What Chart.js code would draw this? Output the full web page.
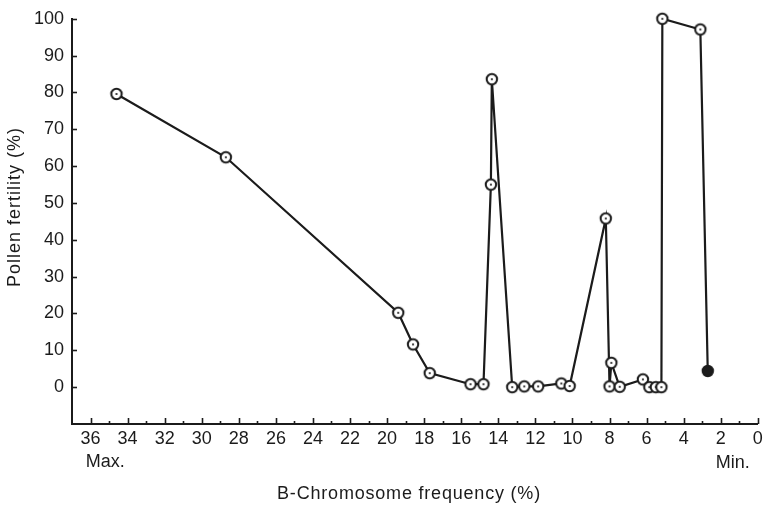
<!DOCTYPE html>
<html>
<head>
<meta charset="utf-8">
<script src="https://cdn.jsdelivr.net/npm/chart.js@4.4.1/dist/chart.umd.min.js"></script>
<style>
  html, body { margin: 0; padding: 0; background: #fff; }
  #wrap { width: 766px; height: 505px; position: relative; }
</style>
</head>
<body>
<div id="wrap"><canvas id="c" width="766" height="505"></canvas></div>
<script>
// B-chromosome frequency (%) for each sample, in plotted (line) order
const bFrequency = [34.6, 28.7, 19.4, 18.6, 17.7, 15.5, 14.8, 14.4, 14.35, 13.25, 12.6, 11.85, 10.6, 10.15, 8.2, 8.0, 7.9, 7.45, 6.2, 5.85, 5.5, 5.2, 5.15, 3.1, 2.7];
// Pollen fertility (%) for each sample
const pollenFertility = [79.6, 62.4, 20.2, 11.6, 3.8, 0.8, 0.8, 55.0, 83.6, 0, 0.2, 0.2, 1.0, 0.3, 45.8, 0.2, 6.6, 0.1, 2.1, 0, 0, 0, 100, 97.1, 4.4];
// filled (solid) markers
const filledPoint = [false,false,false,false,false,false,false,false,false,false,false,false,false,false,false,false,false,false,false,false,false,false,false,false,true];
// axis tick labels
const yTickLabels = [0, 10, 20, 30, 40, 50, 60, 70, 80, 90, 100];
const xTickLabels = [0, 2, 4, 6, 8, 10, 12, 14, 16, 18, 20, 22, 24, 26, 28, 30, 32, 34, 36];
const xEndLabels = { max: 'Max.', min: 'Min.' };
const xTitle = 'B-Chromosome frequency (%)';
const yTitle = 'Pollen fertility (%)';

const INK = '#1b1b1b';
const FONT = '"Liberation Sans", Arial, Helvetica, sans-serif';

function makeMarker(filled) {
  const s = 16, cv = document.createElement('canvas');
  cv.width = s; cv.height = s;
  const g = cv.getContext('2d');
  g.beginPath(); g.arc(s/2, s/2, 5.2, 0, Math.PI*2);
  g.fillStyle = filled ? INK : '#fff'; g.fill();
  g.lineWidth = 2; g.strokeStyle = INK; g.stroke();
  if (!filled) {
    g.beginPath(); g.arc(s/2, s/2, 1.1, 0, Math.PI*2);
    g.fillStyle = INK; g.fill();
  }
  return cv;
}
const openMarker = makeMarker(false);
const solidMarker = makeMarker(true);

const points = bFrequency.map((x, i) => ({ x: x, y: pollenFertility[i] }));

const decor = {
  id: 'decor',
  afterDraw(chart) {
    const ctx = chart.ctx, xs = chart.scales.x, ys = chart.scales.y;
    const a = chart.chartArea;
    ctx.save();
    ctx.strokeStyle = INK;
    ctx.lineWidth = 1.6;
    // x ticks (inward)
    for (let v = 0; v <= 36; v++) {
      const px = Math.round(xs.getPixelForValue(v)) + 0.5;
      const len = (v % 2 === 0) ? 6 : 3;
      ctx.beginPath(); ctx.moveTo(px, a.bottom); ctx.lineTo(px, a.bottom - len); ctx.stroke();
    }
    // y ticks (inward)
    yTickLabels.forEach(v => {
      const py = Math.round(ys.getPixelForValue(v)) + 0.5;
      ctx.beginPath(); ctx.moveTo(a.left, py); ctx.lineTo(a.left + 5, py); ctx.stroke();
    });
    ctx.fillStyle = INK;
    ctx.font = '18px ' + FONT;
    ctx.textBaseline = 'middle';
    ctx.textAlign = 'center';
    ctx.fillText(xEndLabels.max, xs.getPixelForValue(35.2), 462);
    ctx.fillText(xEndLabels.min, xs.getPixelForValue(1.35), 463);
    try { ctx.letterSpacing = '0.8px'; } catch (e) {}
    ctx.fillText(xTitle, 409, 494);
    ctx.translate(15, 207);
    ctx.rotate(-Math.PI / 2);
    try { ctx.letterSpacing = '1px'; } catch (e) {}
    ctx.fillText(yTitle, 0, 0);
    ctx.restore();
  }
};

new Chart(document.getElementById('c'), {
  type: 'scatter',
  data: {
    datasets: [{
      data: points,
      showLine: true,
      clip: false,
      borderColor: INK,
      borderWidth: 2.2,
      tension: 0,
      pointStyle: ctx => filledPoint[ctx.dataIndex] ? solidMarker : openMarker,
      pointRadius: 6,
      pointHoverRadius: 6
    }]
  },
  options: {
    responsive: false,
    animation: false,
    events: [],
    layout: { padding: { left: 0, right: 6, top: 15, bottom: 0 } },
    plugins: { legend: { display: false }, tooltip: { enabled: false } },
    scales: {
      x: {
        type: 'linear',
        reverse: true,
        min: 0, max: 37,
        afterFit: s => { s.height = 81; },
        afterBuildTicks: s => { s.ticks = xTickLabels.map(v => ({ value: v })); },
        grid: { display: false, drawTicks: false },
        border: { display: true, color: INK, width: 2 },
        ticks: {
          color: INK, padding: 4, maxRotation: 0, autoSkip: false,
          font: { family: FONT, size: 18 },
          callback: v => String(v)
        }
      },
      y: {
        type: 'linear',
        min: -10, max: 100,
        afterFit: s => { s.width = 72; },
        afterBuildTicks: s => { s.ticks = yTickLabels.map(v => ({ value: v })); },
        grid: { display: false, drawTicks: false },
        border: { display: true, color: INK, width: 2 },
        ticks: {
          color: INK, padding: 8,
          font: { family: FONT, size: 18 },
          callback: v => String(v)
        }
      }
    }
  },
  plugins: [decor]
});
</script>
</body>
</html>
